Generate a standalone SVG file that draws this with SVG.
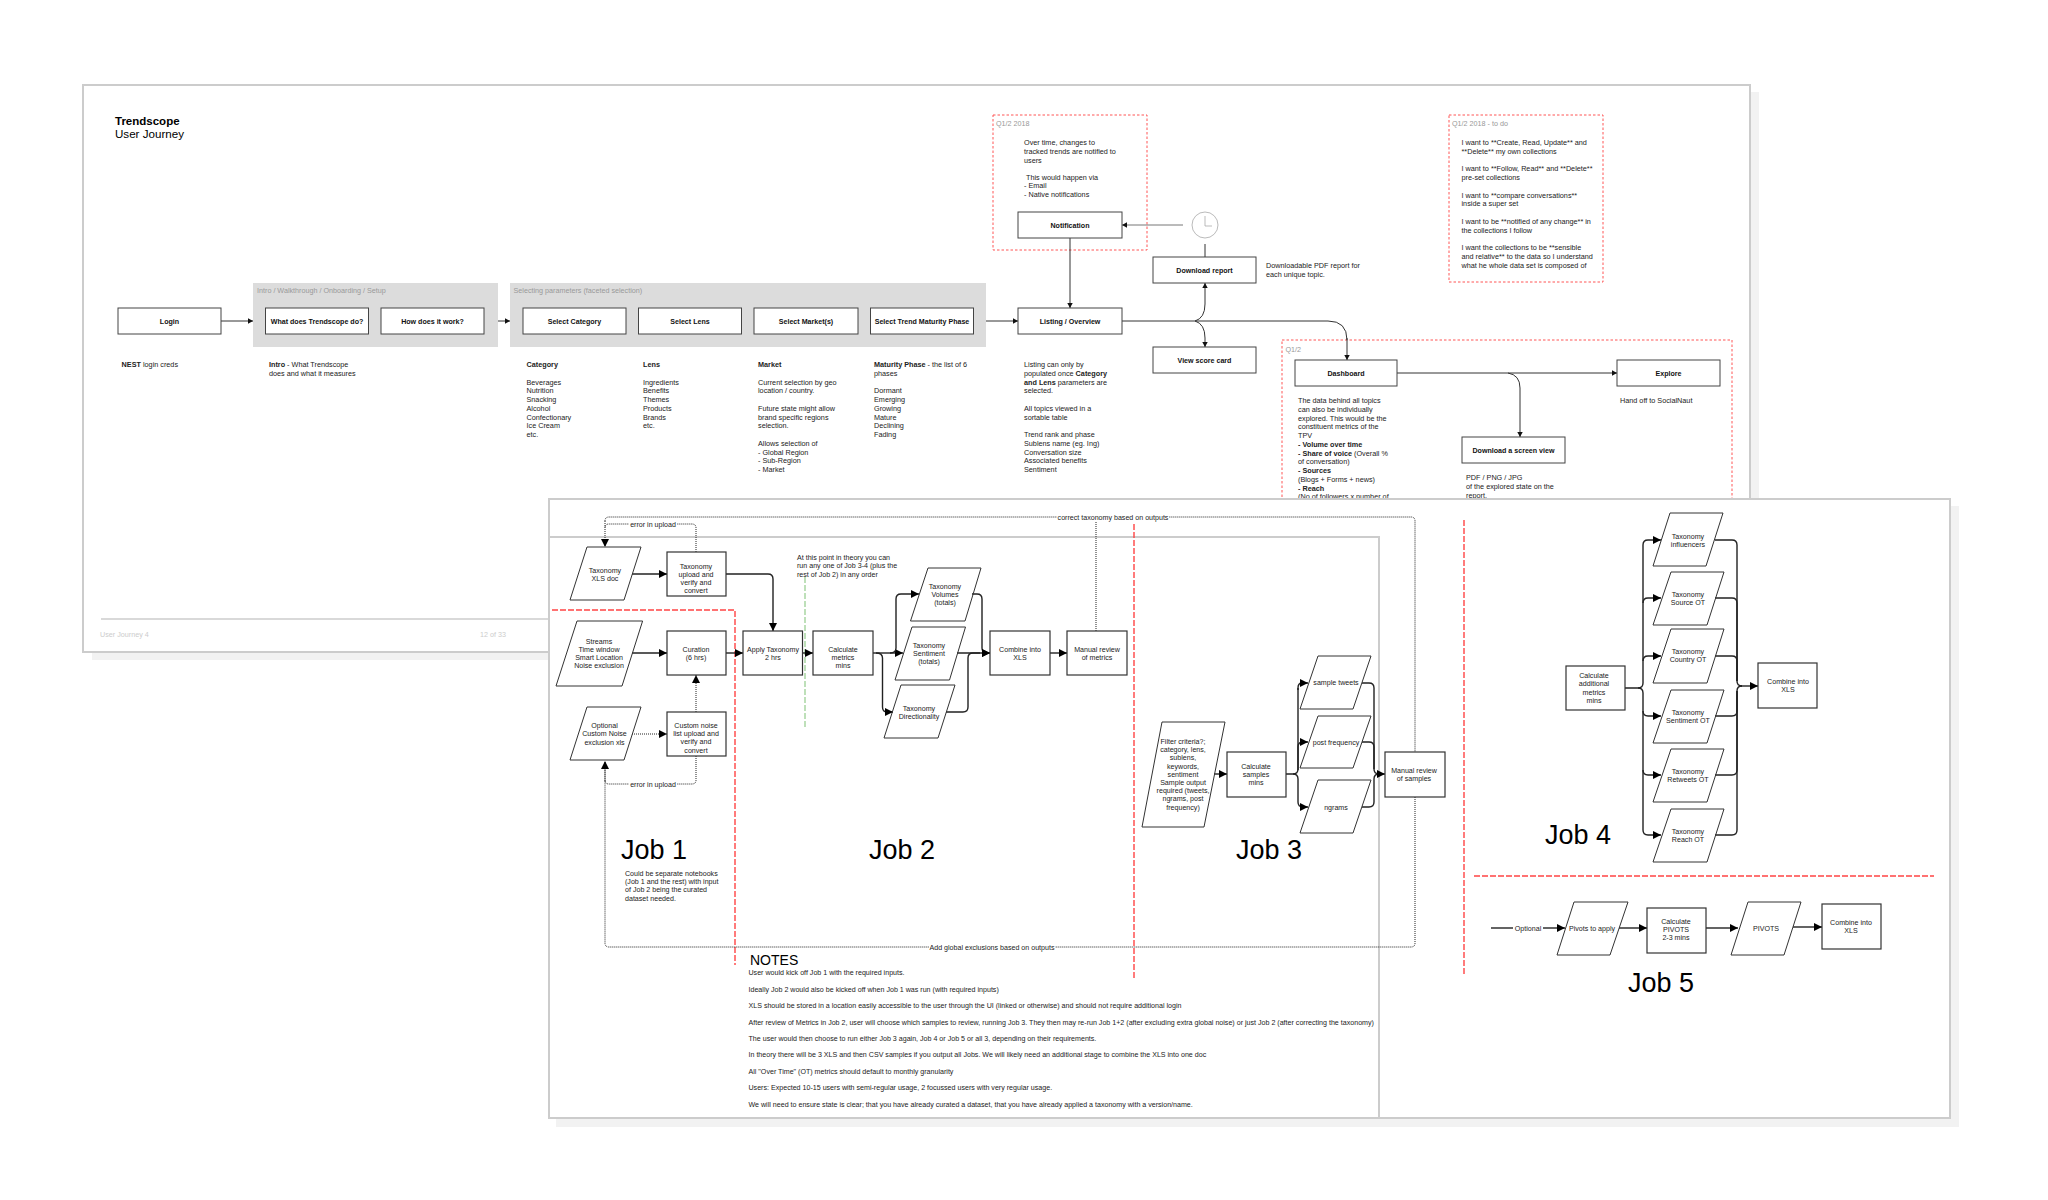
<svg xmlns="http://www.w3.org/2000/svg" width="2048" height="1200" viewBox="0 0 2048 1200">
<style>
text{font-family:"Liberation Sans",Arial,sans-serif;fill:#222;font-size:7.1px}
#journey-notes text{font-size:7.25px}
.b{font-weight:bold}
.t{text-anchor:middle}
.lbl{font-size:7.1px;font-weight:bold;text-anchor:middle;fill:#111}
.g{fill:#999;font-size:7.2px}
.f{fill:#ccc;font-size:7.2px}
.job{font-size:27px;fill:#000}
.box{fill:#fff;stroke:#444;stroke-width:1}
.box2{fill:#fff;stroke:#333;stroke-width:1.2}
.para{fill:none;stroke:#333;stroke-width:1}
.page{fill:#fff;stroke:#ccc;stroke-width:2}
.shadow{fill:#f2f2f2}
.grey{fill:#dcdcdc}
.red1{fill:none;stroke:#f55;stroke-width:1;stroke-dasharray:2.5 2}
.red2{fill:none;stroke:#f44;stroke-width:1.4;stroke-dasharray:6 2}
.green{fill:none;stroke:#a3d39c;stroke-width:1.4;stroke-dasharray:6 2}
.c1{fill:none;stroke:#333;stroke-width:1;marker-end:url(#a1)}
.c1n{fill:none;stroke:#333;stroke-width:1}
.c2{fill:none;stroke:#222;stroke-width:1.4;marker-end:url(#a2)}
.c2n{fill:none;stroke:#222;stroke-width:1.4}
.d{fill:none;stroke:#222;stroke-width:1;stroke-dasharray:1 1}
.da{fill:none;stroke:#222;stroke-width:1;stroke-dasharray:1 1;marker-end:url(#a2)}
</style>
<defs>
<marker id="a1" markerUnits="userSpaceOnUse" markerWidth="6" markerHeight="6" refX="5" refY="3" orient="auto"><path d="M0 .3L5 3L0 5.7z" fill="#111"/></marker>
<marker id="a2" markerUnits="userSpaceOnUse" markerWidth="9" markerHeight="9" refX="8" refY="4.500" orient="auto"><path d="M0 .5L8 4.500L0 8.500z" fill="#000"/></marker>
</defs>

<g id="page-journey">
<rect class="shadow" x="92" y="92" width="1667" height="568"/>
<rect class="page" x="83" y="85" width="1667" height="567"/>
<text class="b" x="115" y="124.500" style="font-size:11.5px;fill:#000">Trendscope</text>
<text x="115" y="138" style="font-size:11.6px;fill:#000">User Journey</text>
<rect class="grey" x="253" y="283" width="245" height="64"/>
<text class="g" x="257" y="293">Intro / Walkthrough / Onboarding / Setup</text>
<rect class="grey" x="510" y="283" width="476" height="64"/>
<text class="g" x="513.500" y="293">Selecting parameters (faceted selection)</text>
<rect class="red1" x="993" y="115" width="154" height="135"/>
<text class="g" x="996" y="126">Q1/2 2018</text>
<rect class="red1" x="1449" y="115" width="154" height="167"/>
<text class="g" x="1452" y="126">Q1/2 2018 - to do</text>
<rect class="red1" x="1282" y="340" width="450" height="200"/>
<text class="g" x="1285.500" y="352">Q1/2</text>
<path d="M101 619H600" stroke="#ccc" stroke-width="1.3" fill="none"/>
<text class="f" x="100" y="637">User Journey 4</text>
<text class="f" x="480" y="637">12 of 33</text>
</g>

<g id="journey-connectors">
<path class="c1" d="M221 321H253"/>
<path class="c1" d="M498 321H510"/>
<path class="c1" d="M986 321H1018"/>
<path class="c1n" d="M1122 321H1328Q1347 321 1347 340"/>
<path class="c1" d="M1347 338V360"/>
<path class="c1" d="M1070 238V308"/>
<path class="c1" d="M1183 225H1122" style="stroke:#777"/>
<path class="c1" d="M1195 321Q1205 318 1205 304V283"/>
<path class="c1" d="M1195 321Q1205 324 1205 338V347"/>
<path class="c1n" d="M1205 244V257"/>
<path class="c1" d="M1397 373H1617"/>
<path class="c1" d="M1508 373Q1520 375 1520 388V437"/>
</g>

<g id="login"><rect class="box" x="118" y="308" width="103" height="26"/><text class="lbl" x="169.500" y="323.500">Login</text></g>
<g id="what"><rect class="box" x="265.500" y="308" width="103" height="26"/><text class="lbl" x="317" y="323.500">What does Trendscope do?</text></g>
<g id="how"><rect class="box" x="381" y="308" width="103" height="26"/><text class="lbl" x="432.500" y="323.500">How does it work?</text></g>
<g id="category"><rect class="box" x="523" y="308" width="103" height="26"/><text class="lbl" x="574.500" y="323.500">Select Category</text></g>
<g id="lens"><rect class="box" x="638.500" y="308" width="103" height="26"/><text class="lbl" x="690" y="323.500">Select Lens</text></g>
<g id="market"><rect class="box" x="754" y="308" width="104" height="26"/><text class="lbl" x="806" y="323.500">Select Market(s)</text></g>
<g id="phase"><rect class="box" x="870.500" y="308" width="103" height="26"/><text class="lbl" x="922" y="323.500">Select Trend Maturity Phase</text></g>
<g id="listing"><rect class="box" x="1018" y="308" width="104" height="26"/><text class="lbl" x="1070" y="323.500">Listing / Overview</text></g>
<g id="notification"><rect class="box" x="1018" y="212" width="104" height="26"/><text class="lbl" x="1070" y="227.500">Notification</text></g>
<g id="clock"><circle cx="1205" cy="225" r="13" fill="#fff" stroke="#bbb" stroke-width="1"/><path d="M1205 216V226H1212" fill="none" stroke="#aaa" stroke-width=".8"/></g>
<g id="download-report"><rect class="box" x="1153" y="257" width="103" height="26"/><text class="lbl" x="1204.500" y="272.500">Download report</text></g>
<g id="score-card"><rect class="box" x="1153" y="347" width="103" height="26"/><text class="lbl" x="1204.500" y="362.500">View score card</text></g>
<g id="dashboard"><rect class="box" x="1295" y="360" width="102" height="26"/><text class="lbl" x="1346" y="375.500">Dashboard</text></g>
<g id="explore"><rect class="box" x="1617" y="360" width="103" height="26"/><text class="lbl" x="1668.500" y="375.500">Explore</text></g>
<g id="screen-view"><rect class="box" x="1462" y="437" width="103" height="26"/><text class="lbl" x="1513.500" y="452.500">Download a screen view</text></g>

<g id="journey-notes">
<text x="121.600" y="367"><tspan class="b">NEST</tspan> login creds</text>
<text x="269" y="367"><tspan class="b">Intro</tspan> - What Trendscope<tspan x="269" dy="8.750">does and what it measures</tspan></text>
<text x="526.500" y="367"><tspan class="b">Category</tspan><tspan x="526.500" dy="17.500">Beverages</tspan><tspan x="526.500" dy="8.750">Nutrition</tspan><tspan x="526.500" dy="8.750">Snacking</tspan><tspan x="526.500" dy="8.750">Alcohol</tspan><tspan x="526.500" dy="8.750">Confectionary</tspan><tspan x="526.500" dy="8.750">Ice Cream</tspan><tspan x="526.500" dy="8.750">etc.</tspan></text>
<text x="643" y="367"><tspan class="b">Lens</tspan><tspan x="643" dy="17.500">Ingredients</tspan><tspan x="643" dy="8.750">Benefits</tspan><tspan x="643" dy="8.750">Themes</tspan><tspan x="643" dy="8.750">Products</tspan><tspan x="643" dy="8.750">Brands</tspan><tspan x="643" dy="8.750">etc.</tspan></text>
<text x="758" y="367"><tspan class="b">Market</tspan><tspan x="758" dy="17.500">Current selection by geo</tspan><tspan x="758" dy="8.750">location / country.</tspan><tspan x="758" dy="17.500">Future state might allow</tspan><tspan x="758" dy="8.750">brand specific regions</tspan><tspan x="758" dy="8.750">selection.</tspan><tspan x="758" dy="17.500">Allows selection of</tspan><tspan x="758" dy="8.750">- Global Region</tspan><tspan x="758" dy="8.750">- Sub-Region</tspan><tspan x="758" dy="8.750">- Market</tspan></text>
<text x="874" y="367"><tspan class="b">Maturity Phase</tspan> - the list of 6<tspan x="874" dy="8.750">phases</tspan><tspan x="874" dy="17.500">Dormant</tspan><tspan x="874" dy="8.750">Emerging</tspan><tspan x="874" dy="8.750">Growing</tspan><tspan x="874" dy="8.750">Mature</tspan><tspan x="874" dy="8.750">Declining</tspan><tspan x="874" dy="8.750">Fading</tspan></text>
<text x="1024" y="367">Listing can only by<tspan x="1024" dy="8.750">populated once </tspan><tspan class="b">Category</tspan><tspan x="1024" dy="8.750" class="b">and Lens</tspan> parameters are<tspan x="1024" dy="8.750">selected.</tspan><tspan x="1024" dy="17.500">All topics viewed in a</tspan><tspan x="1024" dy="8.750">sortable table</tspan><tspan x="1024" dy="17.500">Trend rank and phase</tspan><tspan x="1024" dy="8.750">Sublens name (eg. Ing)</tspan><tspan x="1024" dy="8.750">Conversation size</tspan><tspan x="1024" dy="8.750">Associated benefits</tspan><tspan x="1024" dy="8.750">Sentiment</tspan></text>
<text x="1024" y="145">Over time, changes to<tspan x="1024" dy="8.750">tracked trends are notified to</tspan><tspan x="1024" dy="8.750">users</tspan><tspan x="1026" dy="17">This would happen via</tspan><tspan x="1024" dy="8.750">- Email</tspan><tspan x="1024" dy="8.750">- Native notifications</tspan></text>
<text x="1266" y="268">Downloadable PDF report for<tspan x="1266" dy="8.750">each unique topic.</tspan></text>
<text x="1461.500" y="145">I want to **Create, Read, Update** and<tspan x="1461.500" dy="8.750">**Delete** my own collections</tspan><tspan x="1461.500" dy="17.500">I want to **Follow, Read** and **Delete**</tspan><tspan x="1461.500" dy="8.750">pre-set collections</tspan><tspan x="1461.500" dy="17.500">I want to **compare conversations**</tspan><tspan x="1461.500" dy="8.750">inside a super set</tspan><tspan x="1461.500" dy="17.500">I want to be **notified of any change** in</tspan><tspan x="1461.500" dy="8.750">the collections I follow</tspan><tspan x="1461.500" dy="17.500">I want the collections to be **sensible</tspan><tspan x="1461.500" dy="8.750">and relative** to the data so I understand</tspan><tspan x="1461.500" dy="8.750">what he whole data set is composed of</tspan></text>
<text x="1298" y="403">The data behind all topics<tspan x="1298" dy="8.750">can also be individually</tspan><tspan x="1298" dy="8.750">explored. This would be the</tspan><tspan x="1298" dy="8.750">constituent metrics of the</tspan><tspan x="1298" dy="8.750">TPV</tspan><tspan x="1298" dy="8.750" class="b">- Volume over time</tspan><tspan x="1298" dy="8.750" class="b">- Share of voice</tspan> (Overall %<tspan x="1298" dy="8.750">of conversation)</tspan><tspan x="1298" dy="8.750" class="b">- Sources</tspan><tspan x="1298" dy="8.750">(Blogs + Forms + news)</tspan><tspan x="1298" dy="8.750" class="b">- Reach</tspan><tspan x="1298" dy="8.750">(No of followers x number of</tspan></text>
<text x="1620" y="403">Hand off to SocialNaut</text>
<text x="1466" y="480">PDF / PNG / JPG<tspan x="1466" dy="8.750">of the explored state on the</tspan><tspan x="1466" dy="8.750">report.</tspan></text>
</g>

<g id="page-jobs">
<rect class="shadow" x="556" y="506" width="1403" height="621"/>
<rect class="page" x="549" y="499" width="1401" height="619"/>
<path d="M549 537H1379V1118" fill="none" stroke="#ccc" stroke-width="2"/>
<path class="red2" d="M552 610H735V965"/>
<path class="red2" d="M1134 524V980"/>
<path class="red2" d="M1464 520V976"/>
<path class="red2" d="M1474 876H1934"/>
<path class="green" d="M805 577V727"/>
<text x="797" y="560">At this point in theory you can<tspan x="797" dy="8.300">run any one of Job 3-4 (plus the</tspan><tspan x="797" dy="8.300">rest of Job 2) in any order</tspan></text>
<text class="job" x="621" y="859">Job 1</text>
<text class="job" x="869" y="859">Job 2</text>
<text class="job" x="1236" y="859">Job 3</text>
<text class="job" x="1545" y="844">Job 4</text>
<text class="job" x="1628" y="992">Job 5</text>
<text x="625" y="876">Could be separate notebooks<tspan x="625" dy="8.200">(Job 1 and the rest) with input</tspan><tspan x="625" dy="8.200">of Job 2 being the curated</tspan><tspan x="625" dy="8.200">dataset needed.</tspan></text>
<text x="750" y="965" style="font-size:14px;fill:#000">NOTES</text>
<text x="748.500" y="975">User would kick off Job 1 with the required inputs.</text>
<text x="748.500" y="991.500">Ideally Job 2 would also be kicked off when Job 1 was run (with required inputs)</text>
<text x="748.500" y="1008">XLS should be stored in a location easily accessible to the user through the UI (linked or otherwise) and should not require additional login</text>
<text x="748.500" y="1024.500">After review of Metrics in Job 2, user will choose which samples to review, running Job 3. They then may re-run Job 1+2 (after excluding extra global noise) or just Job 2 (after correcting the taxonomy)</text>
<text x="748.500" y="1041">The user would then choose to run either Job 3 again, Job 4 or Job 5 or all 3, depending on their requirements.</text>
<text x="748.500" y="1057.300">In theory there will be 3 XLS and then CSV samples if you output all Jobs. We will likely need an additional stage to combine the XLS into one doc</text>
<text x="748.500" y="1073.800">All "Over Time" (OT) metrics should default to monthly granularity</text>
<text x="748.500" y="1090.300">Users: Expected 10-15 users with semi-regular usage, 2 focussed users with very regular usage.</text>
<text x="748.500" y="1106.800">We will need to ensure state is clear; that you have already curated a dataset, that you have already applied a taxonomy with a version/name.</text>
</g>

<g id="jobs-connectors">
<path class="d" d="M605 521Q605 517 609 517H1411Q1415 517 1415 521V752M1415 797V943Q1415 947 1411 947H609Q605 947 605 943V762"/>
<path class="d" d="M1096 631V517"/>
<path class="d" d="M696 552V528Q696 524 692 524H609Q605 524 605 528"/>
<path class="da" d="M605 521V547"/>
<path class="d" d="M696 756V780Q696 784 692 784H609Q605 784 605 780"/>
<path class="da" d="M605 781V761"/>
<rect x="1057" y="512" width="112" height="10" fill="#fff"/><text class="t" x="1113" y="519.500">correct taxonomy based on outputs</text>
<rect x="629" y="519" width="48" height="10" fill="#fff"/><text class="t" x="653" y="526.500">error in upload</text>
<rect x="629" y="779" width="48" height="10" fill="#fff"/><text class="t" x="653" y="786.500">error in upload</text>
<rect x="929" y="942" width="126" height="10" fill="#fff"/><text class="t" x="992" y="949.500">Add global exclusions based on outputs</text>
<path class="c2" d="M632 574H667"/>
<path class="c2" d="M726 574H768Q773 574 773 579V631"/>
<path class="c2" d="M632 653H667"/>
<path class="c2" d="M726 653H743"/>
<path class="c2" d="M802 653H813"/>
<path class="da" d="M632 734H667"/>
<path class="da" d="M696 712V675"/>
<path class="c2" d="M873 653H903"/>
<path class="c2" d="M890 653Q896 653 896 648V599Q896 594 901 594H919"/>
<path class="c2" d="M876 653Q882.500 653 882.500 658V707Q882.500 712 887 712H893"/>
<path class="c2" d="M972 594H977Q982 594 982 599V648Q982 653 987 653H990"/>
<path class="c2" d="M957 653H990"/>
<path class="c2n" d="M946 712H963Q968 712 968 707V658Q968 653 973 653H980"/>
<path class="c2" d="M1050 653H1067"/>
<path class="c2" d="M1214 774H1227"/>
<path class="c2n" d="M1286 774H1293Q1298 774 1298 769V688"/>
<path class="c2" d="M1298 770V747Q1298 742 1303 742H1308"/>
<path class="c2" d="M1298 690V688Q1298 683 1302 683H1308"/>
<path class="c2" d="M1293 774Q1298 774 1298 779V802Q1298 807 1303 807H1308"/>
<path class="c2n" d="M1362 683H1369Q1374 683 1374 688V769Q1374 774 1379 774"/>
<path class="c2n" d="M1362 742H1369Q1374 742 1374 747V769"/>
<path class="c2n" d="M1362 807H1369Q1374 807 1374 802V779Q1374 774 1379 774"/>
<path class="c2" d="M1378 774H1385"/>
<path class="c2n" d="M1625 688H1638Q1643 688 1643 683V545"/>
<path class="c2" d="M1643 545Q1643 540 1648 540H1661"/>
<path class="c2" d="M1643 603Q1643 598 1648 598H1661"/>
<path class="c2" d="M1643 661Q1643 656 1648 656H1661"/>
<path class="c2n" d="M1638 688Q1643 688 1643 693V830"/>
<path class="c2" d="M1643 711Q1643 716 1648 716H1661"/>
<path class="c2" d="M1643 770Q1643 775 1648 775H1661"/>
<path class="c2" d="M1643 830Q1643 835 1648 835H1661"/>
<path class="c2n" d="M1715 540H1732Q1737 540 1737 545V681Q1737 686 1742 686"/>
<path class="c2n" d="M1715 598H1732Q1737 598 1737 603V681"/>
<path class="c2n" d="M1715 656H1732Q1737 656 1737 661V681"/>
<path class="c2n" d="M1715 716H1732Q1737 716 1737 711V691Q1737 686 1742 686"/>
<path class="c2n" d="M1715 775H1732Q1737 775 1737 770V691"/>
<path class="c2n" d="M1715 835H1732Q1737 835 1737 830V691"/>
<path class="c2" d="M1741 686H1758"/>
<path class="c2n" d="M1491 928H1513"/>
<path class="c2" d="M1543 928H1565"/>
<text class="t" x="1528" y="930.500">Optional</text>
<path class="c2" d="M1619 928H1647"/>
<path class="c2" d="M1706 928H1738"/>
<path class="c2" d="M1793 927H1822"/>
</g>

<g id="taxonomy-xls"><path class="para" d="M587 547H641L624 600H570z"/><text class="t" x="605" y="572.500">Taxonomy<tspan x="605" dy="8.300">XLS doc</tspan></text></g>
<g id="taxonomy-upload"><rect class="box2" x="667" y="552" width="59" height="44"/><text class="t" x="696" y="568.500">Taxonomy<tspan x="696" dy="8.200">upload and</tspan><tspan x="696" dy="8.200">verify and</tspan><tspan x="696" dy="8.200">convert</tspan></text></g>
<g id="streams"><path class="para" d="M577 621H642.600L622 686H556z"/><text class="t" x="599" y="643.500">Streams<tspan x="599" dy="8.200">Time window</tspan><tspan x="599" dy="8.200">Smart Location</tspan><tspan x="599" dy="8.200">Noise exclusion</tspan></text></g>
<g id="curation"><rect class="box2" x="667" y="631" width="59" height="44"/><text class="t" x="696" y="652">Curation<tspan x="696" dy="8.200">(6 hrs)</tspan></text></g>
<g id="noise-doc"><path class="para" d="M587 707H641L624 760H570z"/><text class="t" x="604.500" y="728">Optional<tspan x="604.500" dy="8.300">Custom Noise</tspan><tspan x="604.500" dy="8.300">exclusion xls</tspan></text></g>
<g id="noise-upload"><rect class="box2" x="667" y="712" width="59" height="44"/><text class="t" x="696" y="728">Custom noise<tspan x="696" dy="8.200">list upload and</tspan><tspan x="696" dy="8.200">verify and</tspan><tspan x="696" dy="8.200">convert</tspan></text></g>
<g id="apply"><rect class="box2" x="743" y="631" width="59.500" height="44"/><text class="t" x="773" y="652">Apply Taxonomy<tspan x="773" dy="8.200">2 hrs</tspan></text></g>
<g id="metrics"><rect class="box2" x="813" y="631" width="60" height="44"/><text class="t" x="843" y="652">Calculate<tspan x="843" dy="8.200">metrics</tspan><tspan x="843" dy="8.200">mins</tspan></text></g>
<g id="volumes"><path class="para" d="M928 568H981L965 621H910.500z"/><text class="t" x="945" y="589">Taxonomy<tspan x="945" dy="8.200">Volumes</tspan><tspan x="945" dy="8.200">(totals)</tspan></text></g>
<g id="sentiment"><path class="para" d="M912 627H965.500L949.500 680H895z"/><text class="t" x="929" y="647.500">Taxonomy<tspan x="929" dy="8.200">Sentiment</tspan><tspan x="929" dy="8.200">(totals)</tspan></text></g>
<g id="directionality"><path class="para" d="M901 685H955L938 738H884z"/><text class="t" x="919" y="710.500">Taxonomy<tspan x="919" dy="8.200">Directionality</tspan></text></g>
<g id="combine-2"><rect class="box2" x="990" y="631" width="60" height="44"/><text class="t" x="1020" y="652">Combine into<tspan x="1020" dy="8.200">XLS</tspan></text></g>
<g id="review-metrics"><rect class="box2" x="1067" y="631" width="60" height="44"/><text class="t" x="1097" y="652">Manual review<tspan x="1097" dy="8.200">of metrics</tspan></text></g>

<g id="filter"><path class="para" d="M1162 722H1225L1204 827H1142z"/><text class="t" x="1183" y="744">Filter criteria?;<tspan x="1183" dy="8.200">category, lens,</tspan><tspan x="1183" dy="8.200">sublens,</tspan><tspan x="1183" dy="8.200">keywords,</tspan><tspan x="1183" dy="8.200">sentiment</tspan><tspan x="1183" dy="8.200">Sample output</tspan><tspan x="1183" dy="8.200">required (tweets,</tspan><tspan x="1183" dy="8.200">ngrams, post</tspan><tspan x="1183" dy="8.200">frequency)</tspan></text></g>
<g id="samples"><rect class="box2" x="1227" y="752" width="59" height="45"/><text class="t" x="1256" y="768.500">Calculate<tspan x="1256" dy="8.200">samples</tspan><tspan x="1256" dy="8.200">mins</tspan></text></g>
<g id="tweets"><path class="para" d="M1318 656H1371L1353 709H1300z"/><text class="t" x="1336" y="685">sample tweets</text></g>
<g id="frequency"><path class="para" d="M1318 716H1371L1353 768H1300z"/><text class="t" x="1336" y="744.500">post frequency</text></g>
<g id="ngrams"><path class="para" d="M1318 780H1371L1353 833H1300z"/><text class="t" x="1336" y="809.500">ngrams</text></g>
<g id="review-samples"><rect class="box2" x="1385" y="752" width="60" height="45"/><text class="t" x="1414" y="772.500">Manual review<tspan x="1414" dy="8.200">of samples</tspan></text></g>

<g id="additional"><rect class="box2" x="1566" y="666" width="59" height="44"/><text class="t" x="1594" y="678">Calculate<tspan x="1594" dy="8.300">additional</tspan><tspan x="1594" dy="8.300">metrics</tspan><tspan x="1594" dy="8.300">mins</tspan></text></g>
<g id="influencers"><path class="para" d="M1670 513H1723L1706 566H1653z"/><text class="t" x="1688" y="538.500">Taxonomy<tspan x="1688" dy="8.200">influencers</tspan></text></g>
<g id="source"><path class="para" d="M1671 572H1724L1707 625H1653z"/><text class="t" x="1688" y="597">Taxonomy<tspan x="1688" dy="8.200">Source OT</tspan></text></g>
<g id="country"><path class="para" d="M1671 629H1724L1707 683H1653z"/><text class="t" x="1688" y="654">Taxonomy<tspan x="1688" dy="8.200">Country OT</tspan></text></g>
<g id="sentiment-ot"><path class="para" d="M1671 690H1724L1707 743H1653z"/><text class="t" x="1688" y="715">Taxonomy<tspan x="1688" dy="8.200">Sentiment OT</tspan></text></g>
<g id="retweets"><path class="para" d="M1671 749H1724L1707 802H1653z"/><text class="t" x="1688" y="774">Taxonomy<tspan x="1688" dy="8.200">Retweets OT</tspan></text></g>
<g id="reach"><path class="para" d="M1671 809H1724L1707 862H1653z"/><text class="t" x="1688" y="833.500">Taxonomy<tspan x="1688" dy="8.200">Reach OT</tspan></text></g>
<g id="combine-4"><rect class="box2" x="1758" y="663" width="59" height="45"/><text class="t" x="1788" y="684">Combine into<tspan x="1788" dy="8.200">XLS</tspan></text></g>

<g id="pivots-apply"><path class="para" d="M1574 902H1628L1610 955H1557z"/><text class="t" x="1592" y="930.500">Pivots to apply</text></g>
<g id="calc-pivots"><rect class="box2" x="1647" y="908" width="59" height="45"/><text class="t" x="1676" y="924">Calculate<tspan x="1676" dy="8.200">PIVOTS</tspan><tspan x="1676" dy="8.200">2-3 mins</tspan></text></g>
<g id="pivots"><path class="para" d="M1748 902H1801L1784 955H1731z"/><text class="t" x="1766" y="930.500">PIVOTS</text></g>
<g id="combine-5"><rect class="box2" x="1822" y="904" width="59" height="45"/><text class="t" x="1851" y="924.500">Combine into<tspan x="1851" dy="8.200">XLS</tspan></text></g>
</svg>
